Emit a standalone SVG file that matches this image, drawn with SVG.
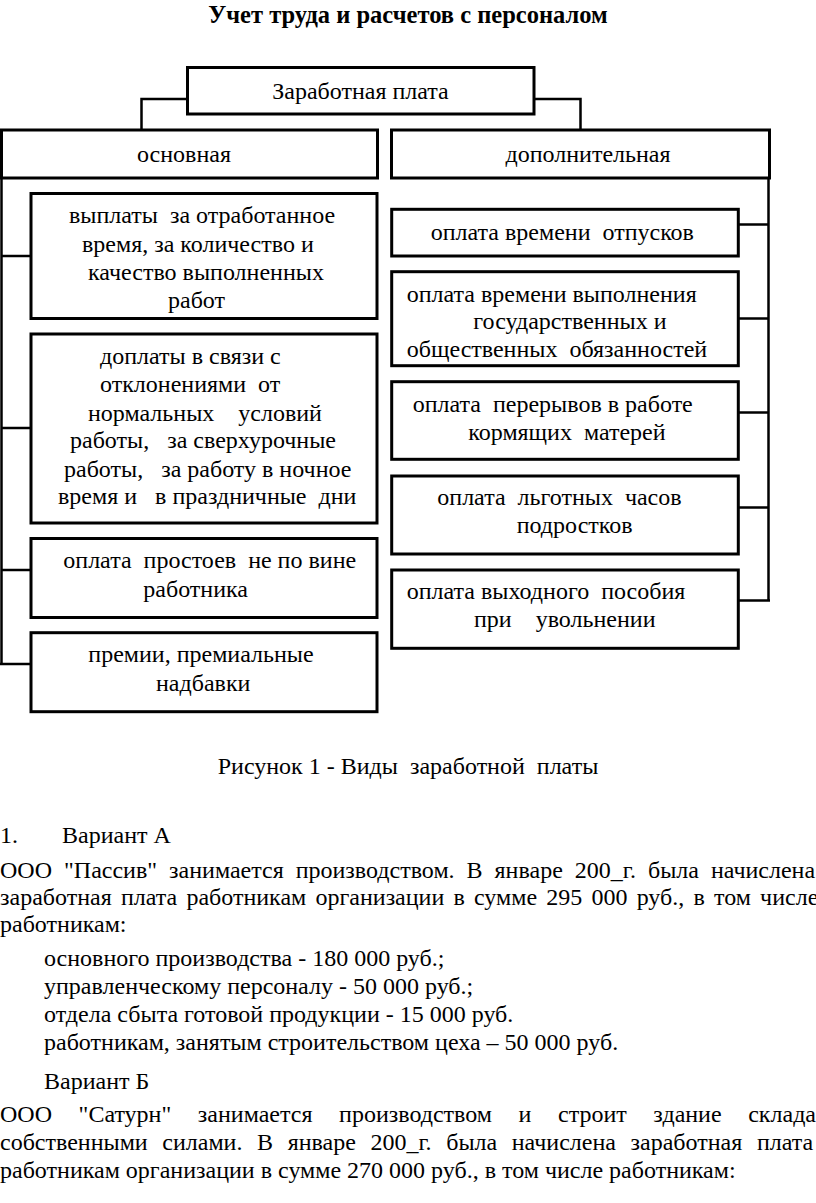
<svg xmlns="http://www.w3.org/2000/svg" width="816" height="1203" viewBox="0 0 816 1203" xml:space="preserve">
<style>
  .bg { fill: #ffffff; }
  .box { fill: #ffffff; stroke: #000000; stroke-width: 3; }
  .conn { fill: none; stroke: #000000; stroke-width: 2.5; }
  text { font-family: "Liberation Serif", "Times New Roman", serif; font-size: 24px; fill: #000000; white-space: pre; }
  .c { text-anchor: middle; }
  .title { font-weight: bold; font-size: 24.5px; }
</style>
<rect class="bg" x="0" y="0" width="816" height="1203"/>
<text class="title c" x="408" y="23">Учет труда и расчетов с персоналом</text>

<g id="connectors">
  <path class="conn" d="M187.5,99 H141.5 V130"/>
  <path class="conn" d="M534,99 H580.5 V130"/>
  <path class="conn" d="M1.5,178 V664"/>
  <path class="conn" d="M1.5,256 H31"/>
  <path class="conn" d="M1.5,428 H31"/>
  <path class="conn" d="M1.5,570 H31"/>
  <path class="conn" d="M0,664 H31"/>
  <path class="conn" d="M768.5,178 V601"/>
  <path class="conn" d="M738.5,224.5 H768.5"/>
  <path class="conn" d="M738.5,318.5 H768.5"/>
  <path class="conn" d="M738.5,412.5 H768.5"/>
  <path class="conn" d="M738.5,507.5 H768.5"/>
  <path class="conn" d="M738.5,600.5 H770"/>
</g>

<g id="n-root">
  <rect class="box" x="187.5" y="67.5" width="346.5" height="46.5"/>
  <text class="c" x="360.5" y="98.5">Заработная плата</text>
</g>
<g id="n-osn">
  <rect class="box" x="1.5" y="130" width="376" height="48"/>
  <text class="c" x="184" y="161.5">основная</text>
</g>
<g id="n-dop">
  <rect class="box" x="391.5" y="130" width="378" height="48"/>
  <text class="c" x="588" y="161.5">дополнительная</text>
</g>

<g id="n-l1">
  <rect class="box" x="31" y="193.5" width="346" height="125"/>
  <text x="69" y="222.7">выплаты  за отработанное</text>
  <text x="82" y="251.7">время, за количество и</text>
  <text x="88" y="280">качество выполненных</text>
  <text x="168" y="307.7">работ</text>
</g>
<g id="n-l2">
  <rect class="box" x="31" y="334" width="346" height="189"/>
  <text x="100" y="364">доплаты в связи с</text>
  <text x="100" y="392">отклонениями  от</text>
  <text x="88" y="420.7">нормальных    условий</text>
  <text x="70" y="448">работы,   за сверхурочные</text>
  <text x="64" y="476.7">работы,   за работу в ночное</text>
  <text x="58" y="504">время и   в праздничные  дни</text>
</g>
<g id="n-l3">
  <rect class="box" x="31" y="538.5" width="346" height="79"/>
  <text x="63.3" y="568.3">оплата  простоев  не по вине</text>
  <text x="143.3" y="597.3">работника</text>
</g>
<g id="n-l4">
  <rect class="box" x="31" y="632.7" width="346" height="79"/>
  <text x="88.3" y="661.7">премии, премиальные</text>
  <text x="156" y="690.7">надбавки</text>
</g>

<g id="n-r1">
  <rect class="box" x="391.7" y="209.3" width="346.6" height="46.7"/>
  <text x="430.7" y="240">оплата времени  отпусков</text>
</g>
<g id="n-r2">
  <rect class="box" x="391.7" y="271.7" width="346.6" height="94"/>
  <text x="406.7" y="301.7">оплата времени выполнения</text>
  <text x="473.3" y="329.3">государственных и</text>
  <text x="406.7" y="356.7">общественных  обязанностей</text>
</g>
<g id="n-r3">
  <rect class="box" x="391.7" y="381.7" width="346.6" height="77.6"/>
  <text x="412.7" y="411.7">оплата  перерывов в работе</text>
  <text x="468.3" y="440">кормящих  матерей</text>
</g>
<g id="n-r4">
  <rect class="box" x="391.7" y="476" width="346.6" height="78"/>
  <text x="437.3" y="505">оплата  льготных  часов</text>
  <text x="516.7" y="533.3">подростков</text>
</g>
<g id="n-r5">
  <rect class="box" x="391.7" y="570" width="346.6" height="78.3"/>
  <text x="406.7" y="599.3">оплата выходного  пособия</text>
  <text x="474" y="627.3">при    увольнении</text>
</g>

<text class="c" x="408" y="774">Рисунок 1 - Виды  заработной  платы</text>
<text x="0" y="843">1.</text>
<text x="62" y="843">Вариант А</text>
<text x="0" y="878" word-spacing="6">ООО "Пассив" занимается производством. В январе 200_г. была начислена</text>
<text x="0" y="905" word-spacing="3.2">заработная плата работникам организации в сумме 295 000 руб., в том числе</text>
<text x="0" y="932">работникам:</text>
<text x="44" y="966">основного производства - 180 000 руб.;</text>
<text x="44" y="994">управленческому персоналу - 50 000 руб.;</text>
<text x="44" y="1022">отдела сбыта готовой продукции - 15 000 руб.</text>
<text x="44" y="1050">работникам, занятым строительством цеха – 50 000 руб.</text>
<text x="44" y="1089">Вариант Б</text>
<text x="0" y="1122" word-spacing="20.6">ООО "Сатурн" занимается производством и строит здание склада</text>
<text x="0" y="1150" word-spacing="8.6">собственными силами. В январе 200_г. была начислена заработная плата</text>
<text x="0" y="1178">работникам организации в сумме 270 000 руб., в том числе работникам:</text>
</svg>
